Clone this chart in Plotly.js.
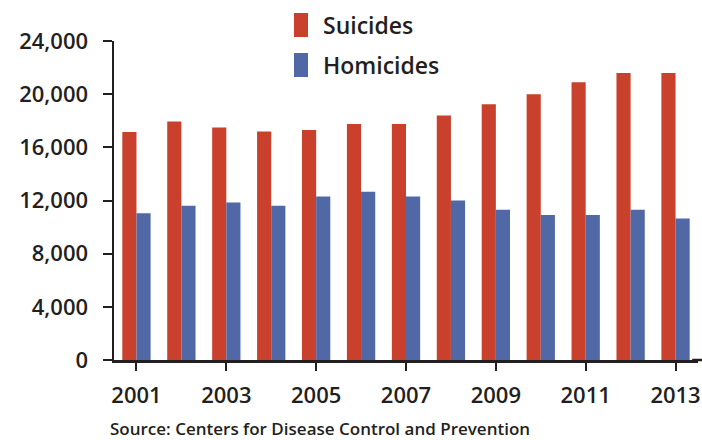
<!DOCTYPE html>
<html>
<head>
<meta charset="utf-8">
<script src="https://cdn.plot.ly/plotly-3.0.1.min.js"></script>
<style>html,body{margin:0;padding:0;background:#fff;}#chart{width:702px;height:440px;}</style>
</head>
<body>
<div id="chart"></div>
<script>
var years = ["2001","2002","2003","2004","2005","2006","2007","2008","2009","2010","2011","2012","2013"];
var suicides = [17150, 17950, 17500, 17200, 17300, 17750, 17750, 18400, 19250, 20000, 20900, 21600, 21600];
var homicides = [11050, 11600, 11850, 11600, 12300, 12650, 12300, 12000, 11300, 10900, 10900, 11300, 10650];
var seriesNames = ["Suicides", "Homicides"];
var tickYears = ["2001","2003","2005","2007","2009","2011","2013"];
var yTicks = [0, 4000, 8000, 12000, 16000, 20000, 24000];
var yTickText = ["0", "4,000", "8,000", "12,000", "16,000", "20,000", "24,000"];
var source = "Source: Centers for Disease Control and Prevention";

var RED = "#C9412C", BLUE = "#5168A6", INK = "#231f20";
var FONT = "Open Sans, Noto Sans, sans-serif";
var W = 600;

var traces = [
  {type: "bar", x: years, y: suicides, name: seriesNames[0], marker: {color: RED}, showlegend: false, hoverinfo: "none"},
  {type: "bar", x: years, y: homicides, name: seriesNames[1], marker: {color: BLUE}, showlegend: false, hoverinfo: "none"}
];

var layout = {
  width: 702, height: 440,
  margin: {l: 114, r: 4, t: 41, b: 80, pad: 0},
  paper_bgcolor: "#fff", plot_bgcolor: "#fff",
  font: {family: FONT, color: INK, weight: W},
  barmode: "group", bargap: 0.37, bargroupgap: 0,
  xaxis: {
    type: "category", tickmode: "array", tickvals: tickYears, ticktext: tickYears,
    showline: true, linecolor: INK, linewidth: 2.5, ticks: "outside", ticklen: 8, tickwidth: 2, tickcolor: INK,
    showgrid: false, zeroline: false, tickfont: {size: 22, color: INK, family: FONT, weight: W},
    ticklabelstandoff: 6, fixedrange: true
  },
  yaxis: {
    range: [0, 24000], tickmode: "array", tickvals: yTicks, ticktext: yTickText,
    showline: true, linecolor: INK, linewidth: 2.5, ticks: "outside", ticklen: 9, tickwidth: 2, tickcolor: INK,
    showgrid: false, zeroline: false, tickfont: {size: 22, color: INK, family: FONT, weight: W},
    ticklabelstandoff: 10, fixedrange: true
  },
  shapes: [
    {type: "line", xref: "paper", yref: "paper", x0: 0.99, x1: 1.02, y0: 0, y1: 0, line: {color: INK, width: 2.5}},
    {type: "rect", xref: "paper", yref: "paper", x0: 0.3082, x1: 0.3322, y0: 1.0125, y1: 1.0878, fillcolor: RED, line: {width: 0}},
    {type: "rect", xref: "paper", yref: "paper", x0: 0.3082, x1: 0.3322, y0: 0.8871, y1: 0.9624, fillcolor: BLUE, line: {width: 0}}
  ],
  annotations: [
    {xref: "paper", yref: "paper", x: 0.354, y: 1.05, xanchor: "left", yanchor: "middle", text: seriesNames[0], showarrow: false, font: {size: 23, color: INK, family: FONT, weight: W}},
    {xref: "paper", yref: "paper", x: 0.354, y: 0.925, xanchor: "left", yanchor: "middle", text: seriesNames[1], showarrow: false, font: {size: 23, color: INK, family: FONT, weight: W}},
    {xref: "paper", yref: "paper", x: -0.01, y: -0.216, xanchor: "left", yanchor: "middle", text: source, showarrow: false, font: {size: 17, color: INK, family: FONT, weight: W}}
  ]
};

Plotly.newPlot("chart", traces, layout, {displayModeBar: false, staticPlot: true});
</script>
</body>
</html>
